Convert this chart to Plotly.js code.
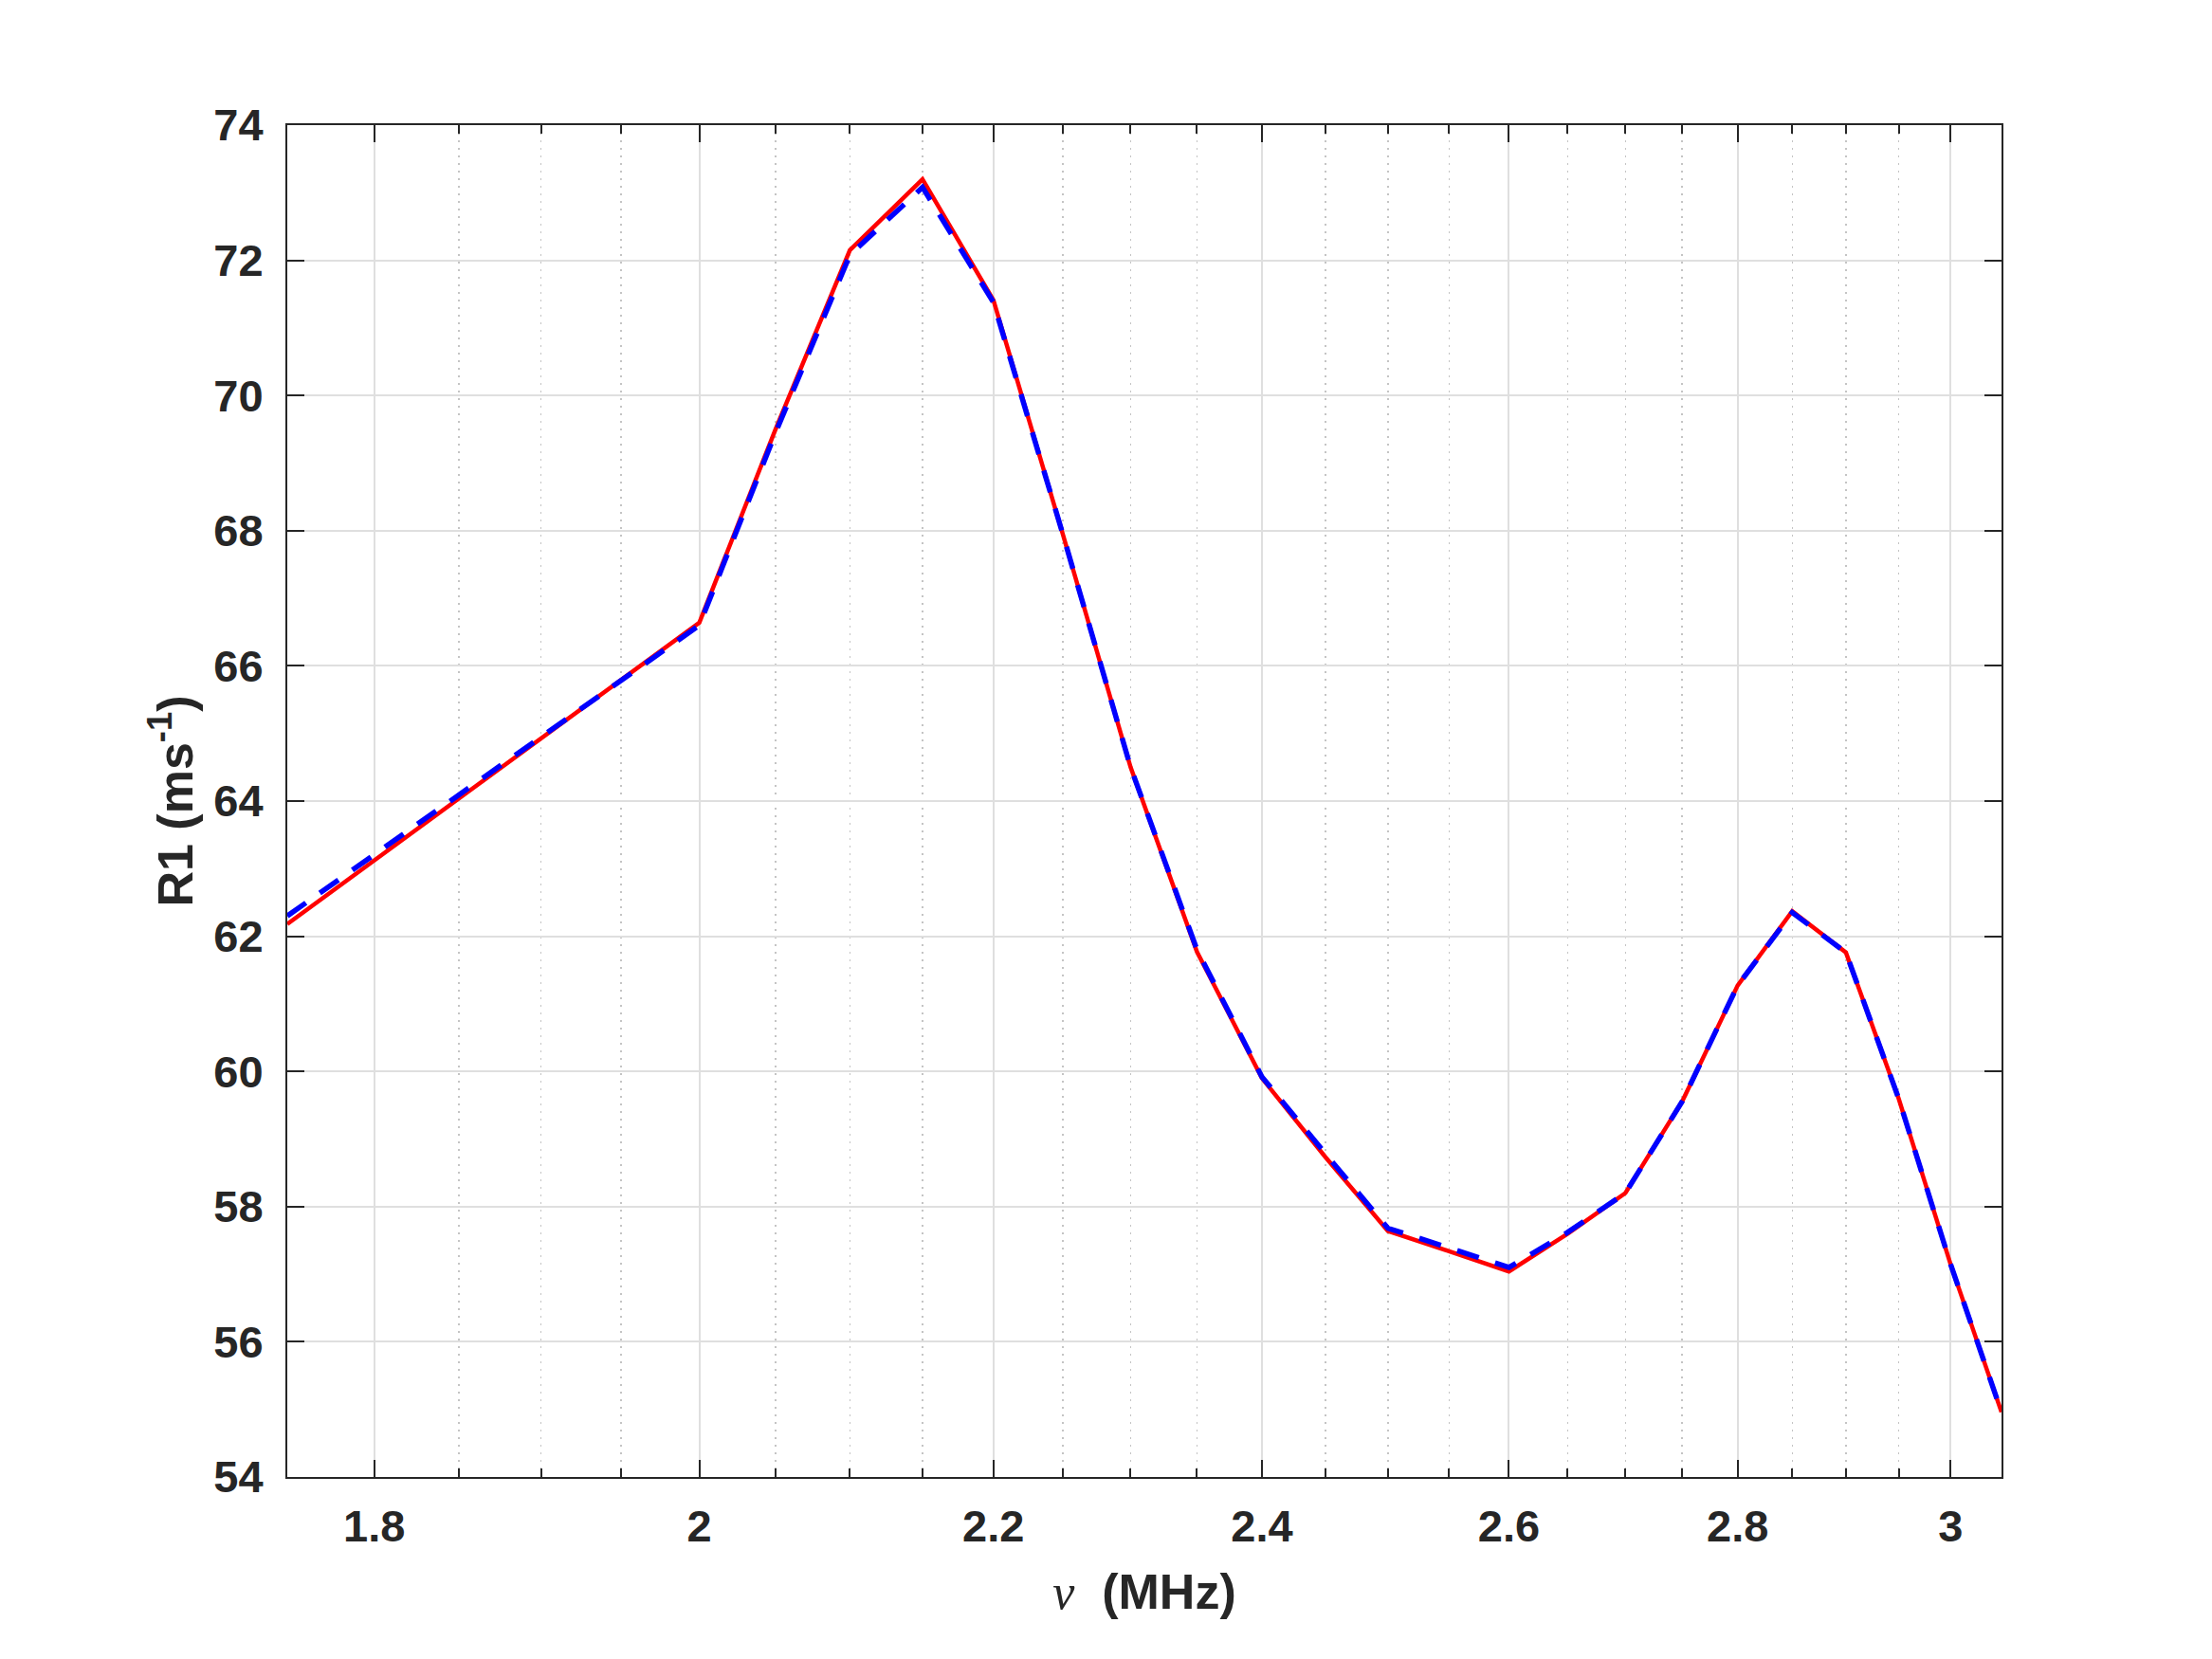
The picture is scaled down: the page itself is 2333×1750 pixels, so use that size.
<!DOCTYPE html>
<html>
<head>
<meta charset="utf-8">
<script src="https://cdn.plot.ly/plotly-3.0.1.min.js"></script>
<style>
  html, body { margin: 0; padding: 0; background: #fff; }
  #chart { width: 2333px; height: 1750px; }
</style>
</head>
<body>
<div id="chart"></div>
<script>
// frequency (MHz) and R1 (ms^-1)
var freq = [1.75, 2.0, 2.05, 2.1, 2.15, 2.2, 2.25, 2.3, 2.35, 2.4, 2.45, 2.5,
            2.55, 2.6, 2.65, 2.7, 2.75, 2.8, 2.85, 2.9, 2.95, 3.0, 3.05];
var r1Solid = [62.18, 66.64, 69.5, 72.15, 73.2, 71.41, 67.95, 64.5, 61.77, 59.9, 58.73, 57.64,
               57.34, 57.04, 57.6, 58.2, 59.55, 61.27, 62.37, 61.76, 59.6, 57.15, 54.96];
var r1Dashed = [62.3, 66.6, 69.45, 72.08, 73.08, 71.38, 67.95, 64.5, 61.8, 59.92, 58.78, 57.68,
                57.39, 57.1, 57.62, 58.2, 59.55, 61.27, 62.35, 61.76, 59.6, 57.15, 54.96];

var xMajor = [1.8, 2, 2.2, 2.4, 2.6, 2.8, 3];
var xMajorText = ['1.8', '2', '2.2', '2.4', '2.6', '2.8', '3'];
var xMinor = [1.85, 1.9, 1.95, 2.05, 2.1, 2.15, 2.25, 2.3, 2.35, 2.45, 2.5, 2.55,
              2.65, 2.7, 2.75, 2.85, 2.9, 2.95];
var yTicks = [54, 56, 58, 60, 62, 64, 66, 68, 70, 72, 74];

var ink = '#262626';

var trace1 = {
  x: freq,
  y: r1Solid,
  type: 'scatter',
  mode: 'lines',
  line: { color: 'rgb(255,0,0)', width: 4.5 },
  hoverinfo: 'skip'
};

var trace2 = {
  x: freq,
  y: r1Dashed,
  type: 'scatter',
  mode: 'lines',
  line: { color: 'rgb(0,0,255)', width: 5.5, dash: '24px,18px' },
  hoverinfo: 'skip'
};

var tickFont = { family: 'Liberation Sans, Arial, sans-serif', size: 47, color: ink, weight: 'bold' };
var titleFont = { family: 'Liberation Sans, Arial, sans-serif', size: 52, color: ink, weight: 'bold' };

var layout = {
  width: 2333,
  height: 1750,
  autosize: false,
  showlegend: false,
  paper_bgcolor: '#ffffff',
  plot_bgcolor: '#ffffff',
  margin: { l: 303, r: 222, t: 132, b: 192, pad: 0 },
  xaxis: {
    type: 'log',
    range: [Math.log10(1.75), Math.log10(3.05)],
    tickmode: 'array',
    tickvals: xMajor,
    ticktext: xMajorText,
    ticks: 'inside',
    ticklen: 18,
    tickwidth: 2,
    tickcolor: ink,
    showline: true,
    linecolor: ink,
    linewidth: 2,
    mirror: 'ticks',
    showgrid: true,
    gridcolor: '#dfdfdf',
    gridwidth: 2,
    zeroline: false,
    tickfont: tickFont,
    ticklabelstandoff: 10,
    minor: {
      tickmode: 'array',
      tickvals: xMinor,
      ticks: 'inside',
      ticklen: 9,
      tickwidth: 2,
      tickcolor: ink,
      showgrid: true,
      gridcolor: '#c4c4c4',
      gridwidth: 1.5,
      griddash: '2px,6px'
    },
    title: {
      text: '<span style="font-family:Liberation Serif;font-style:italic;font-weight:normal">ν</span>  (MHz)',
      font: titleFont,
      standoff: 25
    }
  },
  yaxis: {
    range: [54, 74],
    tickmode: 'array',
    tickvals: yTicks,
    ticks: 'inside',
    ticklen: 18,
    tickwidth: 2,
    tickcolor: ink,
    showline: true,
    linecolor: ink,
    linewidth: 2,
    mirror: 'ticks',
    showgrid: true,
    gridcolor: '#dfdfdf',
    gridwidth: 2,
    zeroline: false,
    tickfont: tickFont,
    ticklabelstandoff: 14,
    title: {
      text: 'R1 (ms<sup>-1</sup>)',
      font: titleFont,
      standoff: 5
    }
  }
};

Plotly.newPlot('chart', [trace1, trace2], layout, { staticPlot: true });
</script>
</body>
</html>
